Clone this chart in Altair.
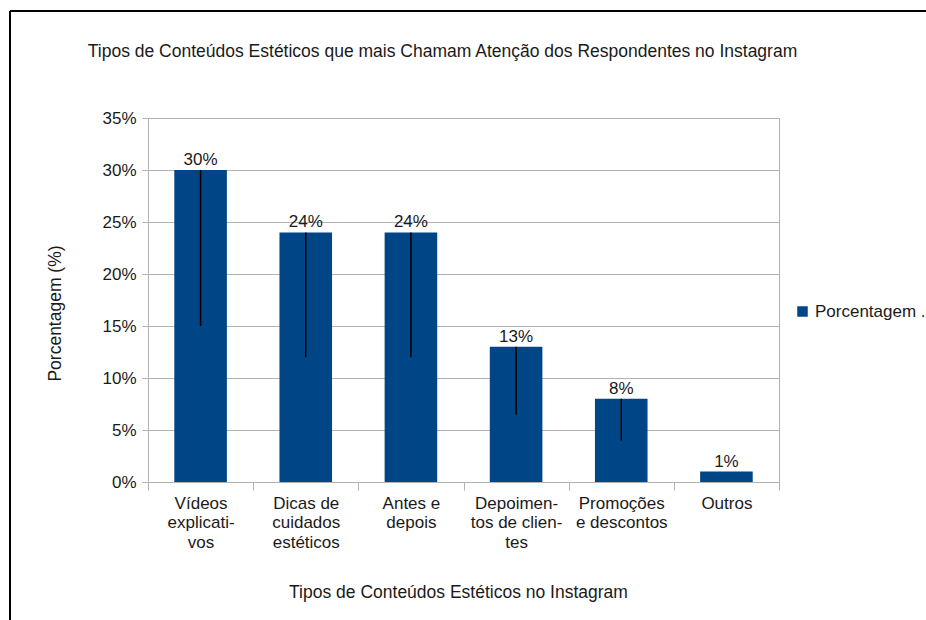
import altair as alt
import pandas as pd

categories = ["Vídeos explicativos", "Dicas de cuidados estéticos", "Antes e depois",
              "Depoimentos de clientes", "Promoções e descontos", "Outros"]
label_lines = ["Vídeos|explicati-|vos", "Dicas de|cuidados|estéticos", "Antes e|depois",
               "Depoimen-|tos de clien-|tes", "Promoções|e descontos", "Outros"]
values = [30, 24, 24, 13, 8, 1]
line_low = [15, 12, 12, 6.5, 4, 1]
series = ["Porcentagem ."] * 6

df = pd.DataFrame({"cat": label_lines, "val": values, "low": line_low,
                   "serie": series, "txt": [f"{v}%" for v in values]})

FONT = "Liberation Sans"
TXT = "#1a1a1a"
GRID = "#b3b3b3"
FS = 17

x = alt.X("cat:N", sort=label_lines, title="Tipos de Conteúdos Estéticos no Instagram",
          scale=alt.Scale(paddingInner=0, paddingOuter=0),
          axis=alt.Axis(labelExpr="split(datum.label, '|')", labelAngle=0,
                        labelFontSize=FS, labelLineHeight=19.5, labelColor=TXT, labelFont=FONT,
                        labelPadding=5, tickBand="extent", tickSize=8, tickColor=GRID,
                        domainColor=GRID, titleFontSize=17.5, titleFont=FONT,
                        titleFontWeight="normal", titleColor=TXT, titlePadding=33,
                        titleX=310))
y = alt.Y("val:Q", title="Porcentagem (%)",
          scale=alt.Scale(domain=[0, 35]),
          axis=alt.Axis(values=[0, 5, 10, 15, 20, 25, 30, 35], labelExpr="datum.value + '%'",
                        labelFontSize=FS, labelColor=TXT, labelFont=FONT, tickSize=6,
                        tickColor=GRID, domainColor=GRID, gridColor=GRID, labelPadding=6,
                        titleFontSize=17.5, titleFont=FONT, titleFontWeight="normal",
                        titleColor=TXT, titlePadding=37, titleY=195))

base = alt.Chart(df)

bars = base.mark_bar(width=alt.RelativeBandSize(0.5)).encode(
    x=x, y=y,
    color=alt.Color("serie:N", scale=alt.Scale(range=["#004586"]),
                    legend=alt.Legend(title=None, orient="none", legendX=646, legendY=185,
                                      symbolType="square", symbolSize=110,
                                      labelFontSize=FS, labelFont=FONT, labelColor=TXT,
                                      symbolStrokeWidth=0)))

lines = base.mark_rule(color="black", strokeWidth=1.5).encode(
    x=alt.X("cat:N", sort=label_lines), y="val:Q", y2="low:Q")

labels = base.mark_text(baseline="bottom", dy=-1, fontSize=FS, font=FONT, color=TXT).encode(
    x=alt.X("cat:N", sort=label_lines), y="val:Q", text="txt:N")

frame_left = base.mark_rule(color="black", strokeWidth=2).encode(
    x=alt.value(-138), y=alt.value(-107), y2=alt.value(510))
frame_top = base.mark_rule(color="black", strokeWidth=2).encode(
    x=alt.value(-138), x2=alt.value(790), y=alt.value(-107))

chart = alt.layer(bars, lines, labels, frame_left, frame_top).properties(
    width=631, height=364,
    title=alt.TitleParams("Tipos de Conteúdos Estéticos que mais Chamam Atenção dos Respondentes no Instagram",
                          fontSize=17.5, font=FONT, fontWeight="normal", color=TXT,
                          anchor="middle", dx=-21, offset=-64, baseline="alphabetic"),
    autosize=alt.AutoSizeParams(type="none"),
    padding={"left": 148, "top": 118, "right": 147, "bottom": 138},
).configure_view(stroke=GRID).configure_axis(domainWidth=1)

chart.save("out.html", embed_options={"renderer": "svg", "actions": False})
